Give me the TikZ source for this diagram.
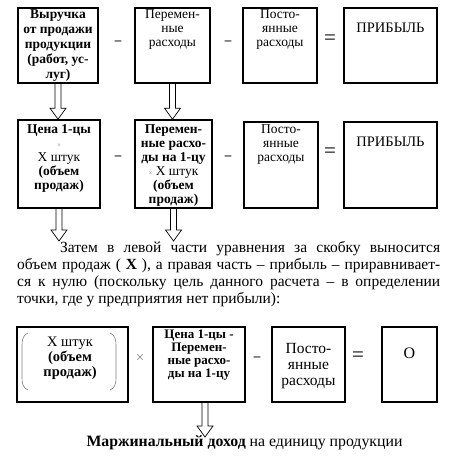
\documentclass[tikz,border=0pt]{standalone}
\usepackage{fontspec}
\setmainfont{Liberation Serif}
\usetikzlibrary{positioning, calc}

\tikzset{
  box/.style={draw, line width=1.6pt, inner sep=0pt},
  btext/.style={align=center, inner sep=0pt, font=\fontsize{13.5}{14}\selectfont},
  op/.style={inner sep=0pt, font=\fontsize{13}{13}\selectfont\bfseries},
  eq/.style={inner sep=0pt, font=\fontsize{21}{21}\selectfont},
  hollow/.style={draw, line width=0.7pt, line join=miter,
    to path={let \p1=(\tikztostart), \p2=(\tikztotarget) in
      (\x1-3pt,\y1) -- (\x1-3pt,\y2+11pt) -- (\x1-8pt,\y2+11pt) -- (\x1,\y2)
      -- (\x1+8pt,\y2+11pt) -- (\x1+3pt,\y2+11pt) -- (\x1+3pt,\y1)}}
}

\begin{document}
\begin{tikzpicture}[x=1pt, y=-1pt]
  \useasboundingbox (0,0) rectangle (450,457);

  % Row 1
  \node[box, minimum width=80, minimum height=75] (rev) at (58,45.5) {};
  \node[box, minimum width=75, minimum height=75] (varc) at (172.5,45.5) {};
  \node[box, minimum width=74, minimum height=75] (fixc) at (280,45.5) {};
  \node[box, minimum width=93, minimum height=75] (prof) at (390.5,45.5) {};
  \node[btext, anchor=north, font=\fontsize{13.5}{15}\selectfont\bfseries] (revt) at (58,9)
    {Выручка\\от продажи\\продукции\\(работ, ус-\\луг)};
  \node[btext, anchor=north] (varct) at (172.5,9) {Перемен-\\ные\\расходы};
  \node[btext, anchor=north] (fixct) at (280,9) {Посто-\\янные\\расходы};
  \node[btext, anchor=north, font=\fontsize{14.5}{15}\selectfont] (proft) at (390.5,23) {ПРИБЫЛЬ};
  \node[op] (m1) at (118,43) {–};
  \node[op] (m2) at (228,43) {–};
  \node[eq] (e1) at (330,40) {=};

  % Row 2
  \node[box, minimum width=82, minimum height=88] (price) at (59,164) {};
  \node[box, minimum width=77, minimum height=88] (varu) at (173.5,164) {};
  \node[box, minimum width=74, minimum height=86] (fixc2) at (281,165) {};
  \node[box, minimum width=93, minimum height=86] (prof2) at (390.5,165) {};
  \node[btext, anchor=north] (pricet) at (59,124)
    {\textbf{Цена 1-цы}\\{\color{gray}\fontsize{7}{7}\selectfont ×}\\Х штук\\\textbf{(объем}\\\textbf{продаж)}};
  \node[btext, anchor=north] (varut) at (173.5,124)
    {\textbf{Перемен-}\\\textbf{ные расхо-}\\\textbf{ды на 1-цу}\\{\color{gray}\fontsize{7}{7}\selectfont ×} Х штук\\\textbf{(объем}\\\textbf{продаж)}};
  \node[btext, anchor=north] (fixc2t) at (281,124) {Посто-\\янные\\расходы};
  \node[btext, anchor=north, font=\fontsize{14.5}{15}\selectfont] (prof2t) at (390.5,137) {ПРИБЫЛЬ};
  \node[op] (m3) at (118,158) {–};
  \node[op] (m4) at (228,158) {–};
  \node[eq] (e2) at (330,153) {=};

  % Arrows between rows
  \coordinate (t1) at (59,241);
  \coordinate (t2) at (173.5,241);
  \draw[hollow] (rev.south) to (price.north);
  \draw[hollow] (varc.south) to (varu.north);
  \draw[hollow] (price.south) to (t1);
  \draw[hollow] (varu.south) to (t2);

  % Text
  \node[anchor=north west, inner sep=0pt, text width=423pt, align=justify,
    font=\fontsize{15.5}{17}\selectfont] (para) at (17,241)
    {\hspace*{43pt}Затем в левой части уравнения за скобку выносится\linebreak
     объем продаж ( \textbf{X} ), а правая часть – прибыль – приравнивает-\linebreak
     ся к нулю (поскольку цель данного расчета – в определении\linebreak
     точки, где у предприятия нет прибыли):};

  % Row 3
  \node[box, minimum width=111, minimum height=75] (qty) at (72.5,364.5) {};
  \node[box, minimum width=92, minimum height=75] (marg) at (199,364.5) {};
  \node[box, minimum width=73, minimum height=75] (fixc3) at (308.5,364.5) {};
  \node[box, minimum width=55, minimum height=75] (zero) at (409.5,364.5) {};
  \draw[gray, line width=0.6pt] (28,333) to[out=200, in=90] (22,345) -- (22,378)
    to[out=-90, in=160] (28,390);
  \draw[gray, line width=0.6pt] (110,333) to[out=-20, in=90] (116,345) -- (116,378)
    to[out=-90, in=20] (110,390);
  \node[btext, font=\fontsize{14.5}{15}\selectfont] (qtyt) at (70,358)
    {Х штук\\\textbf{(объем}\\\textbf{продаж)}};
  \node[btext, anchor=north, font=\fontsize{13}{13}\selectfont\bfseries] (margt) at (199,330)
    {Цена 1-цы -\\Перемен-\\ные расхо-\\ды на 1-цу};
  \node[btext, font=\fontsize{15.5}{16}\selectfont] (fixc3t) at (308.5,366) {Посто-\\янные\\расходы};
  \node[btext, font=\fontsize{16}{16}\selectfont] (zerot) at (409.5,353) {O};
  \node[inner sep=0pt, text=gray, font=\fontsize{15}{15}\selectfont] (x1) at (140,358) {×};
  \node[op] (m5) at (257,359) {–};
  \node[eq] (e3) at (358,357) {=};

  % Bottom arrow and caption
  \coordinate (t3) at (205,437);
  \draw[hollow] (marg.south -| t3) to (t3);
  \node[font=\fontsize{15.8}{16}\selectfont] (cap) at (244.5,443)
    {\textbf{Маржинальный доход} на единицу продукции};
\end{tikzpicture}
\end{document}
